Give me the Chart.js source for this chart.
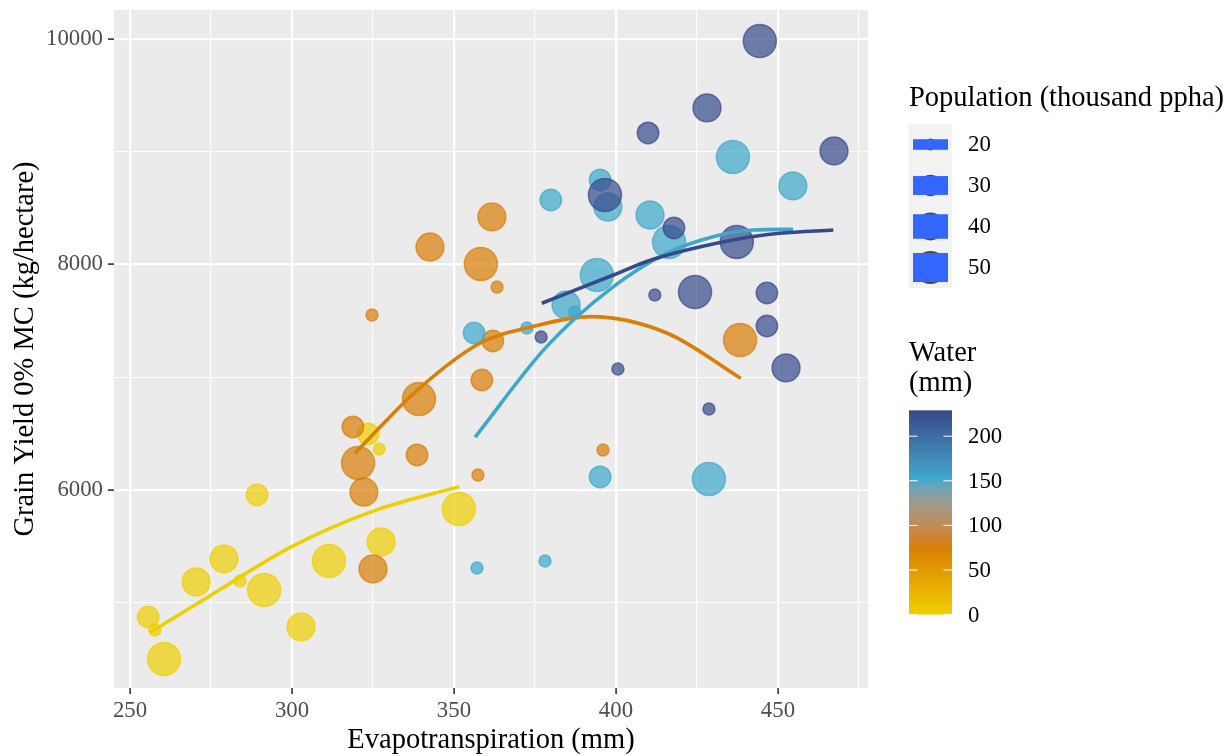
<!DOCTYPE html>
<html>
<head>
<meta charset="utf-8">
<script src="https://cdn.jsdelivr.net/npm/chart.js@4.4.1/dist/chart.umd.min.js"></script>
<style>
  html, body { margin: 0; padding: 0; background: #ffffff; }
  #wrap { width: 1230px; height: 756px; position: relative; }
</style>
</head>
<body>
<div id="wrap"><canvas id="chart" width="1230" height="756"></canvas></div>
<script>
// Irrigation water levels (mm) used to group the observations
const waterLevels = [0, 76, 152, 229];

// Water 0 mm: evapotranspiration (mm), grain yield (kg/ha), population (thousand ppha)
const et_w0    = [255.6, 257.7, 260.5, 270.4, 279.0, 284.0, 291.4, 289.2, 302.8, 311.4, 327.5, 323.5, 326.9, 351.5];
const yield_w0 = [4871, 4756, 4499, 5182, 5386, 5191, 5111, 5954, 4783, 5368, 5537, 6495, 6362, 5830];
const pop_w0   = [30, 20, 50, 40, 40, 20, 50, 30, 40, 50, 40, 30, 20, 50];

// Water 76 mm
const et_w76    = [342.6, 358.3, 361.7, 324.7, 363.3, 362.0, 358.6, 438.3, 396.0, 357.4, 339.2, 318.8, 320.4, 322.2, 338.6, 325.0];
const yield_w76 = [8154, 8004, 8421, 7551, 7799, 7320, 6974, 7329, 6353, 6131, 6806, 6557, 6238, 5980, 6309, 5297];
const pop_w76   = [40, 50, 40, 20, 20, 30, 30, 50, 20, 20, 50, 30, 50, 40, 30, 40];

// Water 152 mm
const et_w152    = [379.9, 395.1, 397.5, 410.5, 436.1, 454.6, 416.4, 394.1, 384.6, 387.3, 372.5, 356.2, 395.1, 428.7, 378.1, 357.1];
const yield_w152 = [8571, 8749, 8509, 8438, 8953, 8696, 8199, 7906, 7640, 7578, 7436, 7391, 6114, 6096, 5368, 5306];
const pop_w152   = [30, 30, 40, 40, 50, 40, 50, 50, 40, 20, 20, 30, 30, 50, 20, 20];

// Water 229 mm
const et_w229    = [444.4, 428.1, 409.9, 467.3, 396.6, 417.9, 437.3, 424.4, 412.0, 446.6, 446.6, 376.9, 452.5, 400.6, 428.7];
const yield_w229 = [9982, 9388, 9166, 9006, 8616, 8323, 8199, 7755, 7728, 7746, 7453, 7356, 7081, 7072, 6717];
const pop_w229   = [50, 40, 30, 40, 50, 30, 50, 50, 20, 30, 30, 20, 40, 20, 20];

// Quadratic trend per water level, sampled along each curve
const fitEt_w0      = [256.0, 274.7, 299.9, 325.0, 351.6];
const fitYield_w0   = [4729, 5060, 5495, 5810, 6028];
const fitEt_w76     = [319.4, 339.0, 358.0, 375.0, 392.0, 415.7, 438.5];
const fitYield_w76  = [6324, 6892, 7300, 7453, 7536, 7391, 6989];
const fitEt_w152    = [356.5, 378.6, 399.2, 415.6, 430.0, 442.4, 454.7];
const fitYield_w152 = [6466, 7270, 7802, 8098, 8246, 8305, 8311];
const fitEt_w229    = [377.1, 399.2, 411.5, 437.3, 450.6, 467.1];
const fitYield_w229 = [7655, 7906, 8045, 8223, 8276, 8305];

// Axis ticks
const xMajorTicks = [250, 300, 350, 400, 450];
const xMinorTicks = [275, 325, 375, 425, 475];
const yMajorTicks = [6000, 8000, 10000];
const yMinorTicks = [5000, 7000, 9000];

// Legend breaks
const populationBreaks = [20, 30, 40, 50];
const waterBreaks = [0, 50, 100, 150, 200];

// ---- styling ----
const SERIF = '"Liberation Serif", "Times New Roman", serif';
const TITLE_SIZE = 28.5;
const TEXT_SIZE = 22.8;
const POINT_ALPHA = 0.7;

// Colour ramp (interpolated in CIELAB)
const rampStops = [
  [0,   '#F0CE00'],
  [76,  '#D97E06'],
  [152, '#3DA8CC'],
  [229, '#364A8A']
];

function hexToRgb(h) { const n = parseInt(h.slice(1), 16); return [(n >> 16) & 255, (n >> 8) & 255, n & 255]; }
function toLin(c) { c /= 255; return c <= 0.04045 ? c / 12.92 : Math.pow((c + 0.055) / 1.055, 2.4); }
function fromLin(c) { const v = c <= 0.0031308 ? 12.92 * c : 1.055 * Math.pow(c, 1 / 2.4) - 0.055; return Math.round(Math.min(1, Math.max(0, v)) * 255); }
const WP = [0.95047, 1, 1.08883];
function fLab(t) { return t > 0.008856 ? Math.cbrt(t) : 7.787 * t + 16 / 116; }
function fLabInv(t) { return t > 0.206893 ? t * t * t : (t - 16 / 116) / 7.787; }
function rgbToLab(rgb) {
  const R = toLin(rgb[0]), G = toLin(rgb[1]), B = toLin(rgb[2]);
  const X = (0.4124 * R + 0.3576 * G + 0.1805 * B) / WP[0];
  const Y = (0.2126 * R + 0.7152 * G + 0.0722 * B) / WP[1];
  const Z = (0.0193 * R + 0.1192 * G + 0.9505 * B) / WP[2];
  const fx = fLab(X), fy = fLab(Y), fz = fLab(Z);
  return [116 * fy - 16, 500 * (fx - fy), 200 * (fy - fz)];
}
function labToRgb(lab) {
  const fy = (lab[0] + 16) / 116, fx = fy + lab[1] / 500, fz = fy - lab[2] / 200;
  const X = fLabInv(fx) * WP[0], Y = fLabInv(fy) * WP[1], Z = fLabInv(fz) * WP[2];
  const R = 3.2406 * X - 1.5372 * Y - 0.4986 * Z;
  const G = -0.9689 * X + 1.8758 * Y + 0.0415 * Z;
  const B = 0.0557 * X - 0.2040 * Y + 1.0570 * Z;
  return [fromLin(R), fromLin(G), fromLin(B)];
}
const rampLab = rampStops.map(s => [s[0], rgbToLab(hexToRgb(s[1]))]);
function waterRgb(v) {
  for (let i = 0; i < rampLab.length - 1; i++) {
    const [v0, l0] = rampLab[i], [v1, l1] = rampLab[i + 1];
    if (v <= v1 || i === rampLab.length - 2) {
      const t = Math.min(1, Math.max(0, (v - v0) / (v1 - v0)));
      return labToRgb([0, 1, 2].map(k => l0[k] + (l1[k] - l0[k]) * t));
    }
  }
}
function rgba(rgb, a) { return `rgba(${rgb[0]},${rgb[1]},${rgb[2]},${a})`; }

// Point radius grows with population (area roughly linear in population)
function popRadius(p) { return Math.sqrt(36 + 7.9 * (p - 20)); }

function pointsDataset(level, et, yld, pop, order) {
  const rgb = waterRgb(level);
  return {
    type: 'scatter',
    label: 'Water ' + level,
    data: et.map((x, i) => ({ x: x, y: yld[i] })),
    pointRadius: pop.map(popRadius),
    pointBackgroundColor: rgba(rgb, POINT_ALPHA),
    pointBorderColor: rgba(rgb, POINT_ALPHA),
    pointBorderWidth: 1.5,
    showLine: false,
    order: order
  };
}
function fitDataset(level, et, yld, order) {
  const rgb = waterRgb(level);
  return {
    type: 'line',
    label: 'Fit ' + level,
    data: et.map((x, i) => ({ x: x, y: yld[i] })),
    borderColor: rgba(rgb, 1),
    borderWidth: 3.6,
    borderCapStyle: 'butt',
    pointRadius: 0,
    fill: false,
    cubicInterpolationMode: 'monotone',
    order: order
  };
}

const xTickValues = xMajorTicks.concat(xMinorTicks).sort((a, b) => a - b);
const yTickValues = yMajorTicks.concat(yMinorTicks).sort((a, b) => a - b);

// Panel background, axis titles and the two legends
const decorPlugin = {
  id: 'decor',
  beforeDraw(chart) {
    const { ctx, chartArea: a } = chart;
    ctx.save();
    ctx.fillStyle = '#FFFFFF';
    ctx.fillRect(0, 0, chart.width, chart.height);
    ctx.fillStyle = '#EBEBEB';
    ctx.fillRect(a.left, a.top, a.right - a.left, a.bottom - a.top);
    ctx.restore();
  },
  afterDraw(chart) {
    const { ctx, chartArea: a } = chart;
    ctx.save();
    ctx.fillStyle = '#000000';
    ctx.textBaseline = 'middle';

    // axis titles
    ctx.font = `${TITLE_SIZE}px ${SERIF}`;
    ctx.textAlign = 'center';
    ctx.fillText('Evapotranspiration (mm)', (a.left + a.right) / 2, 741);
    ctx.save();
    ctx.translate(26, (a.top + a.bottom) / 2);
    ctx.rotate(-Math.PI / 2);
    ctx.fillText('Grain Yield 0% MC (kg/hectare)', 0, 0);
    ctx.restore();

    // population legend
    const keyL = 909, keyR = 952, keyCx = (keyL + keyR) / 2, labelX = 968;
    ctx.textAlign = 'left';
    ctx.font = `${TITLE_SIZE}px ${SERIF}`;
    ctx.fillText('Population (thousand ppha)', keyL, 99);
    const keyTop = 124, keyH = 41;
    ctx.fillStyle = '#F2F2F2';
    ctx.fillRect(keyL, keyTop, keyR - keyL, keyH * populationBreaks.length);
    populationBreaks.forEach((p, i) => {
      const cy = keyTop + keyH * (i + 0.5);
      const r = popRadius(p);
      ctx.fillStyle = 'rgba(0,0,0,0.7)';
      ctx.beginPath();
      ctx.arc(keyCx, cy, r, 0, Math.PI * 2);
      ctx.fill();
      const band = r * 1.76;
      ctx.fillStyle = '#3366FF';
      ctx.fillRect(keyL + 4, cy - band / 2, keyR - keyL - 8, band);
      ctx.fillStyle = '#000000';
      ctx.font = `${TEXT_SIZE}px ${SERIF}`;
      ctx.fillText(String(p), labelX, cy + 1);
    });

    // water colour bar
    ctx.font = `${TITLE_SIZE}px ${SERIF}`;
    ctx.fillText('Water', keyL, 354);
    ctx.fillText('(mm)', keyL, 384);
    const barBottom = 614.6, pxPerMm = 0.892;
    const maxLevel = waterLevels[waterLevels.length - 1];
    const barTop = barBottom - maxLevel * pxPerMm;
    const grad = ctx.createLinearGradient(0, barBottom, 0, barTop);
    for (let k = 0; k <= 60; k++) {
      grad.addColorStop(k / 60, rgba(waterRgb(maxLevel * k / 60), 1));
    }
    ctx.fillStyle = grad;
    ctx.fillRect(keyL, barTop, keyR - keyL, barBottom - barTop);
    const tickLen = (keyR - keyL) / 5;
    ctx.strokeStyle = '#FFFFFF';
    ctx.lineWidth = 1;
    ctx.font = `${TEXT_SIZE}px ${SERIF}`;
    waterBreaks.forEach(w => {
      const y = barBottom - w * pxPerMm;
      ctx.beginPath();
      ctx.moveTo(keyL, y); ctx.lineTo(keyL + tickLen, y);
      ctx.moveTo(keyR - tickLen, y); ctx.lineTo(keyR, y);
      ctx.stroke();
      ctx.fillStyle = '#000000';
      ctx.fillText(String(w), labelX, y + 1);
    });
    ctx.restore();
  }
};

const chart = new Chart(document.getElementById('chart'), {
  type: 'scatter',
  data: {
    datasets: [
      pointsDataset(waterLevels[0], et_w0, yield_w0, pop_w0, 8),
      pointsDataset(waterLevels[1], et_w76, yield_w76, pop_w76, 7),
      pointsDataset(waterLevels[2], et_w152, yield_w152, pop_w152, 6),
      pointsDataset(waterLevels[3], et_w229, yield_w229, pop_w229, 5),
      fitDataset(waterLevels[0], fitEt_w0, fitYield_w0, 4),
      fitDataset(waterLevels[1], fitEt_w76, fitYield_w76, 3),
      fitDataset(waterLevels[2], fitEt_w152, fitYield_w152, 2),
      fitDataset(waterLevels[3], fitEt_w229, fitYield_w229, 1)
    ]
  },
  options: {
    responsive: false,
    animation: false,
    devicePixelRatio: 1,
    events: [],
    layout: { autoPadding: false, padding: { left: 0, top: 10, right: 362, bottom: 0 } },
    plugins: { legend: { display: false }, tooltip: { enabled: false } },
    scales: {
      x: {
        type: 'linear',
        min: 245.06,
        max: 477.8,
        afterBuildTicks: s => { s.ticks = xTickValues.map(v => ({ value: v })); },
        afterFit: s => { s.height = 68; s.paddingLeft = 0; s.paddingRight = 0; },
        border: { display: false },
        grid: {
          color: '#FFFFFF',
          lineWidth: c => (c.tick && xMajorTicks.includes(c.tick.value)) ? 2.2 : 1.1,
          tickColor: c => (c.tick && xMajorTicks.includes(c.tick.value)) ? '#333333' : 'rgba(0,0,0,0)',
          tickWidth: 1.6,
          tickLength: 6,
          drawTicks: true
        },
        ticks: {
          autoSkip: false,
          maxRotation: 0,
          padding: 3,
          color: '#4D4D4D',
          font: { family: SERIF, size: TEXT_SIZE },
          callback: v => xMajorTicks.includes(v) ? String(v) : ''
        }
      },
      y: {
        type: 'linear',
        min: 4241,
        max: 10257,
        afterBuildTicks: s => { s.ticks = yTickValues.map(v => ({ value: v })); },
        afterFit: s => { s.width = 114; s.paddingTop = 0; s.paddingBottom = 0; },
        border: { display: false },
        grid: {
          color: '#FFFFFF',
          lineWidth: c => (c.tick && yMajorTicks.includes(c.tick.value)) ? 2.2 : 1.1,
          tickColor: c => (c.tick && yMajorTicks.includes(c.tick.value)) ? '#333333' : 'rgba(0,0,0,0)',
          tickWidth: 1.6,
          tickLength: 6,
          drawTicks: true
        },
        ticks: {
          autoSkip: false,
          padding: 5,
          color: '#4D4D4D',
          font: { family: SERIF, size: TEXT_SIZE, lineHeight: 0.3 },
          callback: v => yMajorTicks.includes(v) ? String(v) : ''
        }
      }
    }
  },
  plugins: [decorPlugin]
});
</script>
</body>
</html>
